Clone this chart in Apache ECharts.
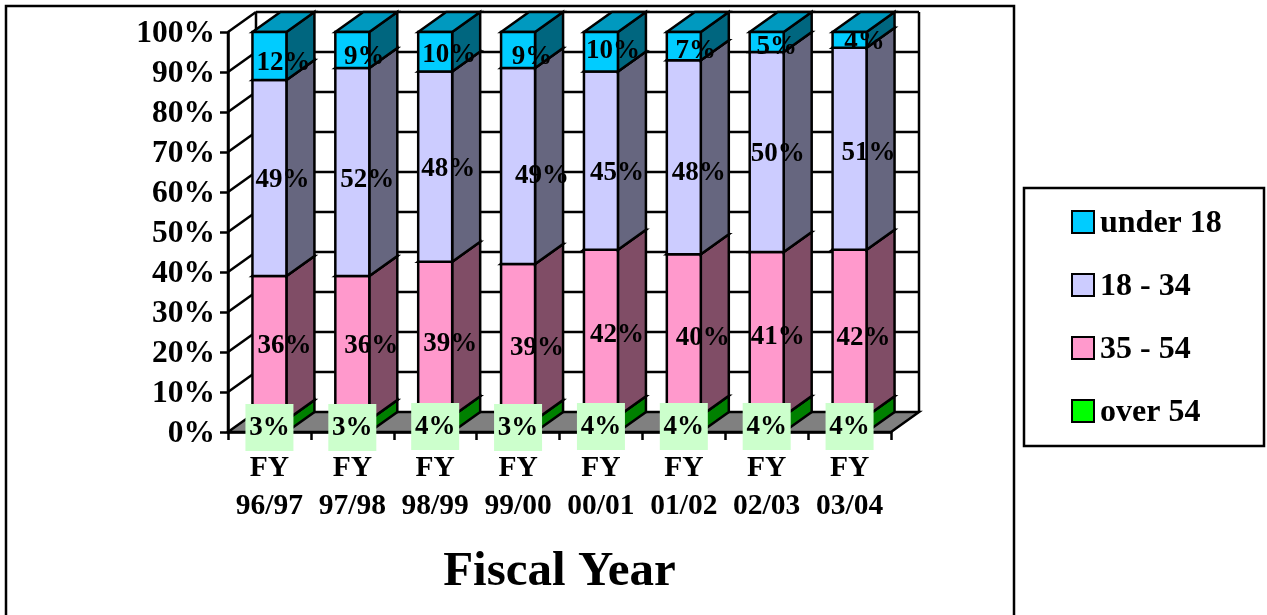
<!DOCTYPE html>
<html><head><meta charset="utf-8">
<style>html,body{margin:0;padding:0;background:#fff;overflow:hidden}#c{width:1267px;height:615px}</style>
<script src="https://cdn.jsdelivr.net/npm/echarts@6/dist/echarts.min.js"></script>
</head><body><div id="c"></div>
<script>
const categories = ['FY\n96/97','FY\n97/98','FY\n98/99','FY\n99/00','FY\n00/01','FY\n01/02','FY\n02/03','FY\n03/04'];
const over54  = [3,3,4,3,4,4,4,4];
const age3554 = [36,36,39,39,42,40,41,42];
const age1834 = [49,52,48,49,45,48,50,51];
const under18 = [12,9,10,9,10,7,5,4];
const yTicks = [0,10,20,30,40,50,60,70,80,90,100];

// label nudges (px) relative to the segment centre
const nudgeX = {
  under18:[14,12,14,14,12,12,10,15],
  age1834:[13,15,13,24,16,15,11,19],
  age3554:[15,19,15,19,16,19,11,14]
};
const nudgeY = {
  under18:[5,5,1,5,-3,3,3,0],
  age1834:[0,6,0,8,10,14,0,2],
  age3554:[-4,-4,3,4,0,1,1,3]
};

const DX = 28, DY = -20, BLACK = '#000', LW = 2.5;
const FONT = '"Liberation Serif","Times New Roman",serif';

const groups = [
  {name:'over 54',  vals:over54,  front:'#00FF00', top:'#00BF00', side:'#008000', key:'over54'},
  {name:'35 - 54',  vals:age3554, front:'#FF99CC', top:'#BF7399', side:'#804D66', key:'age3554'},
  {name:'18 - 34',  vals:age1834, front:'#CCCCFF', top:'#9999BF', side:'#66667F', key:'age1834'},
  {name:'under 18', vals:under18, front:'#00CCFF', top:'#0099BF', side:'#00667F', key:'under18'}
];

function rows(){
  const low = categories.map(()=>0);
  const totals = categories.map((_,i)=>groups.reduce((s,g)=>s+g.vals[i],0));
  return groups.map(g=>g.vals.map((v,i)=>{
    const a = low[i]/totals[i]*100; low[i]+=v; const b = low[i]/totals[i]*100;
    return [i,a,b,v];
  }));
}
const stacked = rows();
const poly = (pts,fill)=>({type:'polygon',shape:{points:pts},style:{fill:fill,stroke:BLACK,lineWidth:LW,lineJoin:'miter'}});
const seg = (a,b)=>({type:'line',shape:{x1:a[0],y1:a[1],x2:b[0],y2:b[1]},style:{stroke:BLACK,lineWidth:LW}});

function barRender(g){
  return function(params,api){
    const i=api.value(0), p0=api.coord([i,api.value(1)]), p1=api.coord([i,api.value(2)]);
    const w=api.size([1,0])[0]*0.41, l=p0[0]-w/2, r=p0[0]+w/2, b=p0[1], t=p1[1];
    return {type:'group',children:[
      poly([[r,b],[r+DX,b+DY],[r+DX,t+DY],[r,t]],g.side),
      poly([[l,t],[r,t],[r+DX,t+DY],[l+DX,t+DY]],g.top),
      poly([[l,b],[r,b],[r,t],[l,t]],g.front)
    ]};
  };
}
function wallRender(params,api){
  const c=params.coordSys, v=api.value(0), y=api.coord([0,v])[1], L=c.x, R=c.x+c.width;
  const ch=[];
  if(v===0){
    const B=c.y+c.height;
    ch.push(poly([[L,B],[R,B],[R+DX,B+DY],[L+DX,B+DY]],'#808080'));
    ch.push(seg([L+DX,c.y+DY],[L+DX,B+DY]));
    ch.push(seg([R+DX,c.y+DY],[R+DX,B+DY]));
    ch.push(seg([L,B],[L,c.y]));
  } else {
    ch.push(seg([L,y],[L+DX,y+DY]));
    ch.push(seg([L+DX,y+DY],[R+DX,y+DY]));
  }
  return {type:'group',children:ch};
}
function labelRender(g){
  return function(params,api){
    const i=api.value(0), p0=api.coord([i,api.value(1)]), p1=api.coord([i,api.value(2)]);
    const txt=api.value(3)+'%';
    const ch=[];
    let x,y;
    if(g.key==='over54'){
      x=p0[0]; y=p0[1]-6+(api.value(3)===4?0:1);
      ch.push({type:'rect',shape:{x:x-24,y:y-23,width:48,height:47},style:{fill:'#CCFFCC'}});
      y+=1;
    } else {
      x=p0[0]+g.nudgeX[i]; y=(p0[1]+p1[1])/2+g.nudgeY[i]+2;
    }
    ch.push({type:'text',style:{x:x,y:y,text:txt,fill:'#000',align:'center',verticalAlign:'middle',
      font:'bold 27px '+FONT}});
    return {type:'group',children:ch};
  };
}
groups.forEach(g=>{g.nudgeX=nudgeX[g.key];g.nudgeY=nudgeY[g.key];});

const series=[{type:'custom',name:'walls',renderItem:wallRender,data:yTicks.map(v=>[v]),encode:{y:0},z:1,clip:false,silent:true}];
groups.forEach((g,k)=>series.push({type:'custom',name:g.name,renderItem:barRender(g),data:stacked[k],
  encode:{x:0,y:[1,2]},z:2,clip:false,silent:true,itemStyle:{color:g.front,borderColor:BLACK,borderWidth:2}}));
groups.forEach((g,k)=>series.push({type:'custom',name:'lbl'+g.key,renderItem:labelRender(g),data:stacked[k],
  encode:{x:0,y:[1,2]},z:5,clip:false,silent:true}));

const chart=echarts.init(document.getElementById('c'),null,{renderer:'canvas'});
chart.setOption({
  animation:false,backgroundColor:'#fff',
  grid:{left:228,right:376,top:32,bottom:183,containLabel:false,outerBoundsMode:'none'},
  xAxis:{type:'category',data:categories,
    axisLine:{lineStyle:{color:BLACK,width:LW}},axisTick:{show:true,length:8,lineStyle:{color:BLACK,width:LW}},
    axisLabel:{color:BLACK,fontFamily:FONT,fontWeight:'bold',fontSize:29.5,lineHeight:38,margin:17,interval:0},
    name:'Fiscal Year',nameLocation:'middle',nameGap:116,
    nameTextStyle:{color:BLACK,fontFamily:FONT,fontWeight:'bold',fontSize:49},z:3},
  yAxis:{type:'value',min:0,max:100,interval:10,splitLine:{show:false},
    axisLine:{show:true,lineStyle:{color:BLACK,width:LW}},axisTick:{show:true,length:8,lineStyle:{color:BLACK,width:LW}},
    axisLabel:{color:BLACK,fontFamily:FONT,fontWeight:'bold',fontSize:31.5,margin:13,verticalAlign:'top',lineHeight:4,formatter:'{value}%'},z:3},
  legend:{orient:'vertical',left:1071,top:204,itemWidth:22,itemHeight:22,itemGap:27,icon:'rect',padding:0,
    data:['under 18','18 - 34','35 - 54','over 54'],
    formatter:n=>'{a|'+n+'}',
    textStyle:{rich:{a:{color:BLACK,fontFamily:FONT,fontWeight:'bold',fontSize:32,lineHeight:32,padding:[4,0,0,1]}}},selectedMode:false},
  graphic:[
    {type:'rect',shape:{x:6,y:6,width:1008,height:640},style:{fill:'none',stroke:BLACK,lineWidth:LW},z:-1,silent:true},
    {type:'rect',shape:{x:1024,y:188,width:240,height:258},style:{fill:'none',stroke:BLACK,lineWidth:LW},z:0,silent:true}
  ],
  series:series
});
</script></body></html>
